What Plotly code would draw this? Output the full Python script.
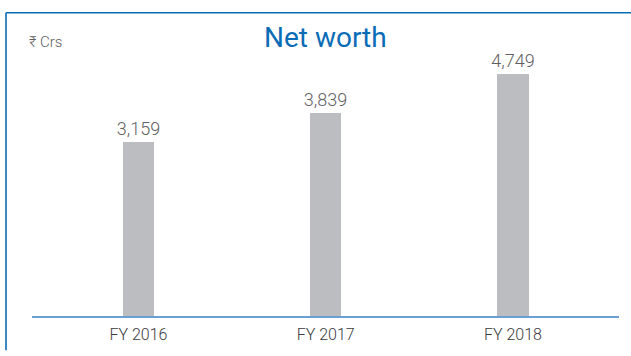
import plotly.graph_objects as go

# Net worth, in ₹ crore
years = ["FY 2016", "FY 2017", "FY 2018"]
net_worth = [3159, 3839, 4749]
value_labels = ["3,159", "3,839", "4,749"]

W, H = 631, 356
ML, MR, MT, MB = 32, 12, 40, 33
PLOT_W = W - ML - MR
PLOT_H = H - MT - MB

# the value axis starts below zero, bars rise from the axis floor
Y_FLOOR = -897
Y_TOP = 5531

FONT = "Roboto, Arial, sans-serif"
BLUE = "#0a6cb6"


def px_to_paper_x(px):
    return (px - ML) / PLOT_W


def px_to_paper_y(py):
    return (H - MB - py) / PLOT_H


fig = go.Figure()
fig.add_trace(go.Bar(
    x=[0, 1, 2],
    y=[v - Y_FLOOR for v in net_worth],
    base=[Y_FLOOR] * len(net_worth),
    width=0.168,
    marker=dict(color="#bcbdc0", line=dict(width=0)),
    text=value_labels,
    textposition="outside",
    constraintext="none",
    textfont=dict(family=FONT, size=18, color="#5f6062", weight=300),
    cliponaxis=False,
    hoverinfo="skip",
))

fig.update_layout(
    width=W, height=H,
    margin=dict(l=ML, r=MR, t=MT, b=MB, pad=0),
    paper_bgcolor="white", plot_bgcolor="white",
    showlegend=False,
    bargap=0,
    xaxis=dict(
        range=[-0.568, 2.566],
        tickmode="array", tickvals=[0, 1, 2], ticktext=years,
        tickfont=dict(family=FONT, size=16, color="#3a3a3c", weight=300),
        ticklabelstandoff=3,
        showline=True, linecolor="#6a9fd2", linewidth=2,
        showgrid=False, zeroline=False, ticks="", fixedrange=True,
    ),
    yaxis=dict(
        range=[Y_FLOOR, Y_TOP], visible=False, showgrid=False,
        zeroline=False, fixedrange=True,
    ),
    shapes=[
        # frame: top edge and left edge
        dict(type="line", xref="paper", yref="paper",
             x0=px_to_paper_x(6), x1=px_to_paper_x(W + 2),
             y0=px_to_paper_y(12), y1=px_to_paper_y(12),
             line=dict(color=BLUE, width=1.6)),
        dict(type="line", xref="paper", yref="paper",
             x0=px_to_paper_x(6), x1=px_to_paper_x(6),
             y0=px_to_paper_y(12), y1=px_to_paper_y(H + 2),
             line=dict(color=BLUE, width=1.6)),
    ],
    annotations=[
        dict(text="Net worth", xref="paper", yref="paper",
             x=px_to_paper_x(325), y=px_to_paper_y(37),
             xanchor="center", yanchor="middle", showarrow=False,
             font=dict(family=FONT, size=28, color=BLUE)),
        dict(text="₹ Crs", xref="paper", yref="paper",
             x=px_to_paper_x(27), y=px_to_paper_y(42),
             xanchor="left", yanchor="middle", showarrow=False,
             font=dict(family=FONT, size=15, color="#5f6062", weight=300)),
    ],
)

fig.write_html("out.html")
